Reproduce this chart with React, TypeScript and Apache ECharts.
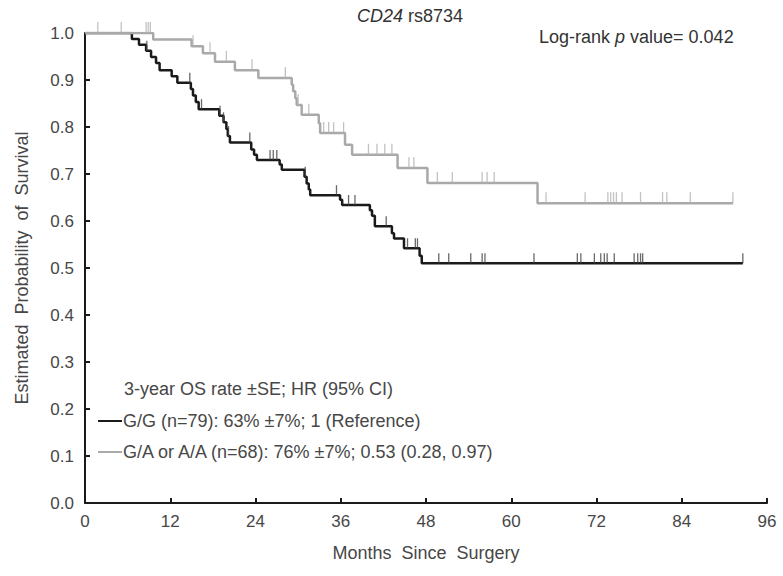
import React, { useEffect, useRef } from "react";
import * as echarts from "echarts";

// X axis ticks (months)
const xTickValues = [0, 12, 24, 36, 48, 60, 72, 84, 96];

// G/G (n=79): event times and survival after each step
const ggTimes = [0, 6.6, 7.6, 8.6, 9.3, 10.0, 10.5, 12.2, 13.0, 14.9, 15.2, 15.6, 16.0, 18.9, 19.5, 19.9, 20.1, 20.4, 23.4, 23.8, 24.2, 27.4, 27.7, 30.9, 31.2, 31.5, 31.7, 35.9, 36.2, 40.1, 40.4, 40.8, 43.2, 43.5, 44.9, 47.1, 47.4, 92.6];
const ggSurv = [1.0, 0.987, 0.975, 0.962, 0.949, 0.936, 0.921, 0.908, 0.894, 0.881, 0.867, 0.853, 0.838, 0.824, 0.81, 0.796, 0.781, 0.767, 0.752, 0.741, 0.73, 0.72, 0.709, 0.694, 0.68, 0.667, 0.655, 0.645, 0.634, 0.623, 0.611, 0.589, 0.574, 0.563, 0.542, 0.526, 0.51, 0.51];
const ggCensor = [8.7, 14.75, 16.4, 19.0, 19.5, 20.2, 23.2, 26.05, 26.5, 27.0, 31.0, 35.4, 37.1, 38.0, 42.4, 45.4, 46.5, 46.8, 49.8, 51.2, 54.3, 55.9, 56.3, 63.2, 69.3, 69.8, 71.7, 72.6, 73.1, 73.5, 74.5, 77.3, 77.8, 78.2, 78.5, 92.6];

// G/A or A/A (n=68)
const gaTimes = [0, 9.6, 15.0, 16.6, 18.3, 21.1, 24.4, 29.1, 29.3, 29.6, 29.8, 30.5, 32.9, 33.1, 36.6, 37.6, 44.0, 48.2, 63.7, 91.2];
const gaSurv = [1.0, 0.986, 0.972, 0.957, 0.939, 0.921, 0.904, 0.89, 0.876, 0.861, 0.847, 0.826, 0.808, 0.787, 0.762, 0.741, 0.713, 0.681, 0.638, 0.638];
const gaCensor = [1.8, 5.1, 8.6, 8.9, 9.2, 15.2, 17.6, 19.9, 23.5, 28.2, 30.0, 31.5, 33.6, 34.3, 35.0, 36.4, 39.9, 41.1, 42.2, 43.2, 45.6, 46.3, 49.6, 51.7, 55.9, 56.6, 57.6, 64.9, 70.4, 73.6, 74.0, 74.4, 74.8, 75.6, 78.2, 81.3, 81.9, 85.2, 91.2];

const legendHeader = "3-year OS rate ±SE; HR (95% CI)";
const ggLabel = "G/G (n=79): 63% ±7%; 1 (Reference)";
const gaLabel = "G/A or A/A (n=68): 76% ±7%; 0.53 (0.28, 0.97)";

const FONT = "'Liberation Sans', Arial, Helvetica, sans-serif";
const BLACK = "#1a1a1a";
const GREY = "#a9a9a9";
const TEXT = "#474747";

function survAt(times: number[], surv: number[], t: number) {
  let v = surv[0];
  for (let i = 0; i < times.length; i++) {
    if (times[i] <= t) v = surv[i];
  }
  return v;
}

export default function App() {
  const ref = useRef<HTMLDivElement>(null);
  useEffect(() => {
    if (!ref.current) return;
    const chart = echarts.init(ref.current, undefined, { renderer: "svg" });
    const ggLine = ggTimes.map((t, i) => [t, ggSurv[i]]);
    const gaLine = gaTimes.map((t, i) => [t, gaSurv[i]]);
    const ggMarks = ggCensor.map((t) => [t, survAt(ggTimes, ggSurv, t)]);
    const gaMarks = gaCensor.map((t) => [t, survAt(gaTimes, gaSurv, t)]);

    chart.setOption({
      animation: false,
      backgroundColor: "#ffffff",
      grid: { left: 85, right: 16, top: 33, bottom: 73 },
      xAxis: {
        type: "value",
        min: xTickValues[0],
        max: xTickValues[xTickValues.length - 1],
        interval: 12,
        name: "Months  Since  Surgery",
        nameLocation: "middle",
        nameGap: 41,
        nameTextStyle: { fontFamily: FONT, fontSize: 18, color: TEXT },
        axisLine: { lineStyle: { color: BLACK, width: 2 } },
        axisTick: { inside: true, length: 5, lineStyle: { color: BLACK, width: 2 } },
        axisLabel: { fontFamily: FONT, fontSize: 17, color: TEXT, margin: 10 },
        splitLine: { show: false },
      },
      yAxis: {
        type: "value",
        min: 0,
        max: 1,
        interval: 0.1,
        name: "Estimated  Probability  of  Survival",
        nameLocation: "middle",
        nameGap: 54,
        nameTextStyle: { fontFamily: FONT, fontSize: 18, color: TEXT },
        axisLine: { show: true, lineStyle: { color: BLACK, width: 2 } },
        axisTick: { show: true, inside: true, length: 5, lineStyle: { color: BLACK, width: 2 } },
        axisLabel: {
          fontFamily: FONT,
          fontSize: 17,
          color: TEXT,
          margin: 11,
          formatter: (v: number) => v.toFixed(1),
        },
        splitLine: { show: false },
      },
      graphic: [
        {
          type: "text",
          x: 410,
          y: 16,
          style: {
            text: "{i|CD24} {n|rs8734}",
            align: "center",
            verticalAlign: "middle",
            fontFamily: FONT,
            fontSize: 18,
            fill: "#333",
            rich: {
              i: { fontStyle: "italic", fontFamily: FONT, fontSize: 18, fill: "#333" },
              n: { fontFamily: FONT, fontSize: 18, fill: "#333" },
            },
          },
        },
        {
          type: "text",
          x: 539,
          y: 37,
          style: {
            text: "{n|Log-rank }{i|p}{n| value= 0.042}",
            align: "left",
            verticalAlign: "middle",
            fontFamily: FONT,
            fontSize: 18,
            fill: "#333",
            rich: {
              i: { fontStyle: "italic", fontFamily: FONT, fontSize: 18, fill: "#333" },
              n: { fontFamily: FONT, fontSize: 18, fill: "#333" },
            },
          },
        },
        {
          type: "text",
          x: 124,
          y: 389,
          style: { text: legendHeader, verticalAlign: "middle", fontFamily: FONT, fontSize: 18, fill: TEXT },
        },
        {
          type: "line",
          shape: { x1: 98, y1: 421, x2: 122, y2: 421 },
          style: { stroke: BLACK, lineWidth: 2 },
        },
        {
          type: "text",
          x: 123,
          y: 421,
          style: { text: ggLabel, verticalAlign: "middle", fontFamily: FONT, fontSize: 18, fill: TEXT },
        },
        {
          type: "line",
          shape: { x1: 98, y1: 452, x2: 122, y2: 452 },
          style: { stroke: GREY, lineWidth: 2 },
        },
        {
          type: "text",
          x: 123,
          y: 452,
          style: { text: gaLabel, verticalAlign: "middle", fontFamily: FONT, fontSize: 18, fill: TEXT },
        },
      ],
      series: [
        {
          name: "G/G",
          type: "line",
          step: "end",
          data: ggLine,
          showSymbol: false,
          lineStyle: { color: BLACK, width: 2.5 },
          z: 2,
        },
        {
          name: "G/G censored",
          type: "scatter",
          data: ggMarks,
          symbol: "rect",
          symbolSize: [1.3, 10],
          symbolOffset: [0, -5],
          itemStyle: { color: "#444" },
          z: 3,
        },
        {
          name: "G/A or A/A",
          type: "line",
          step: "end",
          data: gaLine,
          showSymbol: false,
          lineStyle: { color: GREY, width: 2.5 },
          z: 4,
        },
        {
          name: "G/A or A/A censored",
          type: "scatter",
          data: gaMarks,
          symbol: "rect",
          symbolSize: [1.3, 11],
          symbolOffset: [0, -5.5],
          itemStyle: { color: "#b3b3b3" },
          z: 5,
        },
      ],
    });
    return () => chart.dispose();
  }, []);
  return (
    <div
      ref={ref}
      style={{ position: "fixed", left: 0, top: 0, width: 783, height: 576, background: "#fff" }}
    />
  );
}
